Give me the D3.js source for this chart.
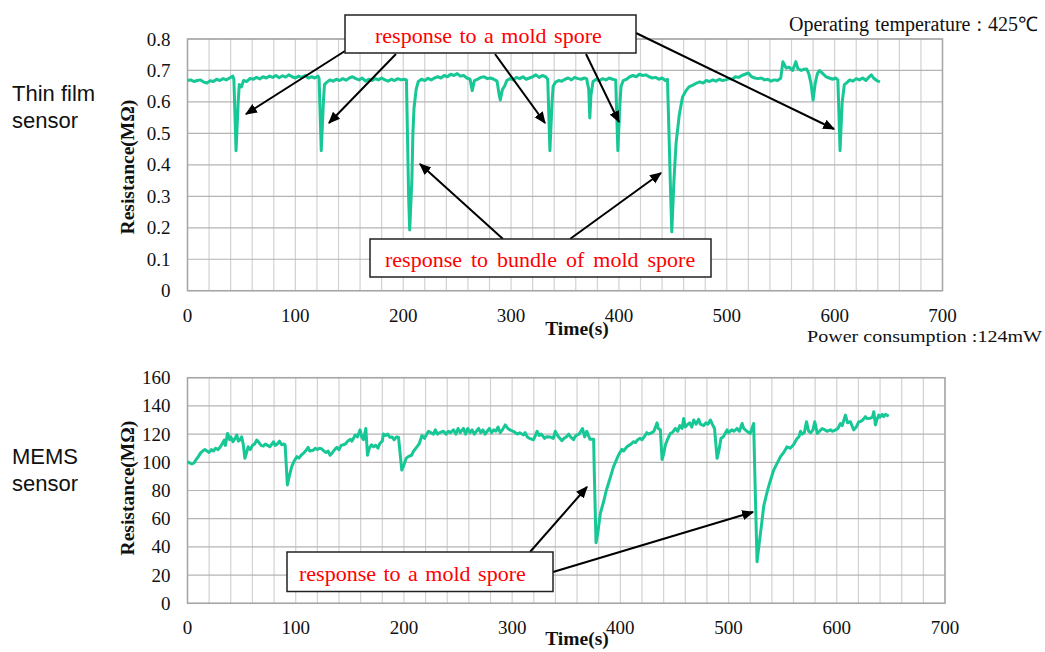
<!DOCTYPE html>
<html>
<head>
<meta charset="utf-8">
<title>mold spore response</title>
<script src="https://cdn.jsdelivr.net/npm/d3@7/dist/d3.min.js"></script>
<style>
  html, body { margin: 0; padding: 0; background: #fff; }
  svg { display: block; }
  .tick-label { font-family: "Liberation Serif", "Times New Roman", serif; font-size: 19px; fill: #111; }
  .axis-title { font-family: "Liberation Serif", "Times New Roman", serif; font-size: 19.5px; font-weight: bold; fill: #111; }
  .side-label { font-family: "Liberation Sans", Arial, sans-serif; font-size: 22px; fill: #111; }
  .note { font-family: "Liberation Serif", "Times New Roman", serif; fill: #111; }
  .callout-text { font-family: "Liberation Serif", "Times New Roman", serif; font-size: 22px; fill: #ff0000; }
  .grid-h { stroke: #b4b4b4; stroke-width: 1.2px; }
  .grid-v { stroke: #d2d2d2; stroke-width: 1.2px; }
  .frame { fill: none; stroke: #a6a6a6; stroke-width: 1.5px; }
  .trace { fill: none; stroke: #17c795; stroke-width: 3px; stroke-linejoin: round; }
  .callout-box { fill: #fff; stroke: #222; stroke-width: 1.5px; }
  .arrow { stroke: #000; stroke-width: 2px; }
</style>
</head>
<body>
<div id="chart"></div>
<script>
var width = 1045,
    height = 652;

// ---- data: thin film sensor (time s, resistance MOhm)
var thinTime = [0,3,6,9,12,15,18,21,24,27,30,33,36,39,42,43,45,47,48,50,52,55,58,61,64,67,70,73,76,79,82,85,88,91,94,97,100,103,106,109,112,115,118,121,122,124,126,127,129,132,135,138,141,144,147,150,153,156,159,162,165,168,171,174,177,180,183,186,189,192,195,198,201,203,205,206,208,209,210,211,212,214,217,220,223,226,229,232,235,238,241,244,247,250,253,256,259,262,264,266,269,272,275,278,281,284,287,289,290,292,294,296,299,302,305,308,311,314,317,320,323,326,329,332,334,336,338,339,341,344,347,350,353,356,359,362,365,368,370,372,373,374,376,379,382,385,388,391,394,397,399,401,402,404,407,410,413,416,419,422,425,428,431,434,437,440,443,445,446,448,449,451,453,456,459,462,465,469,472,475,478,481,484,487,490,493,496,499,502,505,508,511,514,517,520,523,526,529,532,535,538,541,544,547,550,552,555,558,561,564,566,569,572,574,576,578,580,582,584,586,589,592,595,598,601,603,605,607,609,611,614,617,620,623,626,629,632,634,636,639,642];
var thinRes = [0.668,0.670,0.665,0.668,0.670,0.663,0.660,0.667,0.665,0.672,0.668,0.674,0.670,0.676,0.682,0.672,0.445,0.600,0.655,0.648,0.668,0.665,0.675,0.672,0.678,0.673,0.680,0.676,0.682,0.678,0.684,0.677,0.683,0.679,0.686,0.680,0.676,0.682,0.678,0.684,0.676,0.680,0.676,0.682,0.675,0.445,0.600,0.655,0.662,0.670,0.666,0.672,0.668,0.674,0.669,0.676,0.680,0.674,0.670,0.676,0.666,0.672,0.668,0.674,0.670,0.676,0.670,0.666,0.672,0.668,0.674,0.670,0.672,0.670,0.300,0.193,0.350,0.500,0.580,0.610,0.640,0.665,0.672,0.668,0.675,0.670,0.676,0.680,0.676,0.684,0.680,0.688,0.684,0.690,0.682,0.684,0.676,0.672,0.636,0.668,0.672,0.678,0.680,0.674,0.676,0.672,0.666,0.622,0.606,0.640,0.650,0.668,0.674,0.670,0.678,0.674,0.680,0.672,0.676,0.680,0.686,0.678,0.684,0.680,0.672,0.445,0.600,0.650,0.662,0.668,0.666,0.672,0.676,0.670,0.678,0.674,0.672,0.676,0.674,0.640,0.549,0.620,0.665,0.672,0.668,0.674,0.670,0.676,0.672,0.670,0.445,0.600,0.650,0.668,0.672,0.680,0.684,0.680,0.688,0.684,0.686,0.680,0.676,0.678,0.672,0.676,0.668,0.672,0.550,0.300,0.187,0.350,0.470,0.560,0.616,0.635,0.648,0.654,0.660,0.664,0.660,0.668,0.665,0.670,0.666,0.672,0.668,0.670,0.674,0.672,0.680,0.678,0.684,0.688,0.692,0.680,0.676,0.674,0.676,0.670,0.672,0.666,0.670,0.668,0.675,0.728,0.708,0.710,0.700,0.728,0.705,0.700,0.704,0.705,0.690,0.660,0.606,0.660,0.690,0.700,0.690,0.680,0.676,0.672,0.676,0.670,0.445,0.600,0.655,0.660,0.670,0.666,0.674,0.670,0.676,0.668,0.680,0.686,0.676,0.668,0.664];

// ---- data: MEMS sensor (time s, resistance MOhm)
var memsTime = [0,2,4,6,8,10,12,14,16,18,20,22,24,26,28,30,32,34,35,37,39,40,42,44,45.5,47,48.6,50,51.5,53,55,56,58,60,62,64,66,68,70,72,74,76,78,79.4,81,83,85,87,89,90.2,92.3,94,96.3,98,101,103,105,107,109,111.5,113,116,118,120,122,124,126,128,130,131.8,134,136,138,140,142,144,146,148,150.5,152,155,157,159.5,161,162.6,164.8,166.3,168,170,172,174,176,177.8,180,181,183,185,187,189,191,193,195,198,200,202,204,207,209,212,214,216.6,219,222.7,225,227.3,229,231,233,236.5,239,241,243,245.8,248,250,252,255,257,259,261,263,265,267,269,271,273,275,277,279,281,283,285,287,289,291,293.6,296,298,301,303,305,307,310.5,312,314,316,319.8,321,323,325,327,330,332,335,338,339.8,342,344,346,348,350,352.2,354,356.8,358,359.9,362,363.5,365,367,369,371,372,375.3,376,377.5,379.3,381.5,384.5,387,389,391,393.7,396,398.3,401.4,403,406,408,410,412,414,416,418.2,420,422,424.4,426,429,431,433.9,435,437,438.5,440,441.6,444,446.2,448,450.9,453,455,457,458.5,460,461.7,464,466,467.8,470,472.4,474,477,479,481,483.2,485,487,489.4,491,493,495,498.6,500,503,505,507.7,510,512.5,514,517,520,523.2,524,526.3,528.7,530.5,532.5,535,537,539,541.7,544,546,548,551,554,557,560,563.4,565,566.5,568,570,572,574,576,578,579.6,582,584,586.5,589,591,594,596,599,601,603.4,605,608,610,612.6,614,615.7,618,620.3,622,624,626.5,628,631,633,634.2,635.7,637,638.8,640,642,643.4,645,648];
var memsRes = [100.5,99.5,98.8,99.5,102,104,106.5,108,109,108,107,109,108,110,109,110.6,113,115.8,112,120.5,116,118,114.6,117,119.4,115,116,118,113,102.8,108,111,109,112,113,115.8,114,112,111.5,113,112,111,113,114.6,112,113,115,112.4,113,112.4,83.9,90,96.9,100,104,103,105,106.3,108,110.6,108,108.5,110,109,110,109.5,108,107,108,105,107,109,110.6,109,112,112.4,113,115,116.3,115,119.4,118,123,118,116,124,105,110,112.4,111,112,110,113.5,115,120,119,120,117.7,118,116,118,117.7,94.5,98,102.8,104,105,108,111,113,118.9,117,122,121,120,123,120,121,122,120,122,121,123,120,124,121,124,120,124,121,123,120,122,124,121,123,120,122,124,121,123,122,125,121,123,126.5,124,123,122,121,120,121,119.4,121,118,117,116,118,122,119,120,117,118.2,118,117,122,119,117,115.3,117,118,120,118,116,118,119.4,120,122,124,118,122,118,116.3,116.3,90,43,50.8,63.8,72,80,85,90,96.9,101,105.2,109.2,108,111,112,113,114.6,114,116,117,116,118,121,120,121,122,128,124,123,102,106,112.3,117,120.5,121,124,122,126,124,131,125,126.5,128,125,130,127,130.5,127,126,128,127,130,127,124,102.8,108,117,118,123,121,123,122,124,122,127.5,124,122,120.5,127.5,100,29.5,45,56,69,77,82.7,88,94.5,98,101,104,107,111,110,112.4,117,118,122,120,121,128.8,122,121,123,128.8,120.5,122,124,123,122,123,122,123,124,127.5,126,133.5,128,128.8,126,123,125,128.8,129,130,132.4,131,131.3,132,135.9,126.5,130,133.5,132,134,132.4,134,132.8];

var timeTicks = [0, 100, 200, 300, 400, 500, 600, 700];
var thinTicks = [0, 0.1, 0.2, 0.3, 0.4, 0.5, 0.6, 0.7, 0.8];
var memsTicks = [0, 20, 40, 60, 80, 100, 120, 140, 160];
var timeMinor = d3.range(0, 701, 20);

var svg = d3.select("#chart").append("svg")
            .attr("width", width)
            .attr("height", height);

svg.append("defs").append("marker")
   .attr("id", "head")
   .attr("viewBox", "0 0 10 10")
   .attr("refX", 9).attr("refY", 5)
   .attr("markerWidth", 6).attr("markerHeight", 6)
   .attr("markerUnits", "strokeWidth")
   .attr("orient", "auto")
   .append("path")
   .attr("d", "M0,0.8L10,5L0,9.2Z")
   .attr("fill", "#000");

// draws one panel: grid, frame, ticks, titles, trace
var panel = function(opt) {
  var x = d3.scaleLinear().domain([0, 700]).range([opt.x0, opt.x1]);
  var y = d3.scaleLinear().domain([opt.yTicks[0], opt.yTicks[opt.yTicks.length - 1]])
            .range([opt.y0, opt.y1]);
  var g = svg.append("g");

  g.selectAll(".grid-v").data(timeMinor).enter().append("line")
   .attr("class", "grid-v")
   .attr("x1", function(d) { return x(d); }).attr("x2", function(d) { return x(d); })
   .attr("y1", opt.y1).attr("y2", opt.y0);

  g.selectAll(".grid-h").data(opt.yTicks).enter().append("line")
   .attr("class", "grid-h")
   .attr("x1", opt.x0).attr("x2", opt.x1)
   .attr("y1", function(d) { return y(d); }).attr("y2", function(d) { return y(d); });

  g.append("rect").attr("class", "frame")
   .attr("x", opt.x0).attr("y", opt.y1)
   .attr("width", opt.x1 - opt.x0).attr("height", opt.y0 - opt.y1);

  // y tick labels
  g.selectAll(".ytl").data(opt.yTicks).enter().append("text")
   .attr("class", "tick-label")
   .attr("x", opt.x0 - 17)
   .attr("y", function(d) { return y(d) + 6.5; })
   .attr("text-anchor", "end")
   .text(function(d) { return opt.fmt(d); });

  // x tick labels
  g.selectAll(".xtl").data(timeTicks).enter().append("text")
   .attr("class", "tick-label")
   .attr("x", function(d) { return x(d); })
   .attr("y", opt.y0 + 31)
   .attr("text-anchor", "middle")
   .text(function(d) { return d; });

  g.append("text").attr("class", "axis-title")
   .attr("x", 577).attr("y", opt.y0 + opt.titleGap)
   .attr("text-anchor", "middle")
   .text("Time(s)");

  g.append("text").attr("class", "axis-title")
   .attr("transform", "translate(" + 134 + "," + opt.yMid + ") rotate(-90)")
   .attr("text-anchor", "middle")
   .text("Resistance(M\u03a9)");

  var line = d3.line()
               .x(function(d, i) { return x(opt.t[i]); })
               .y(function(d) { return y(d); });

  g.append("path")
   .datum(opt.v)
   .attr("class", "trace")
   .attr("d", line);

  var side = g.append("text").attr("class", "side-label");
  opt.side.forEach(function(s, i) {
    side.append("tspan").attr("x", 12).attr("y", opt.sideY + i * 27).text(s);
  });
};

panel({ x0: 187.5, x1: 942.5, y0: 290.7, y1: 39, yMid: 167, titleGap: 44,
        yTicks: thinTicks, t: thinTime, v: thinRes,
        fmt: function(d) { return d === 0 ? "0" : d3.format(".1f")(d); },
        side: ["Thin film", "sensor"], sideY: 101 });

panel({ x0: 187.5, x1: 945, y0: 603.3, y1: 377.7, yMid: 488, titleGap: 42,
        yTicks: memsTicks, t: memsTime, v: memsRes,
        fmt: function(d) { return d; },
        side: ["MEMS", "sensor"], sideY: 464 });

// operating notes
svg.append("text").attr("class", "note")
   .attr("x", 789).attr("y", 31)
   .style("font-size", "20px")
   .style("word-spacing", "1px")
   .text("Operating temperature : 425\u2103");

svg.append("text").attr("class", "note")
   .attr("x", 807).attr("y", 341.5)
   .style("font-size", "17.5px")
   .attr("textLength", 235).attr("lengthAdjust", "spacingAndGlyphs")
   .text("Power consumption  :124mW");

// callouts: box [x, y, w, h], text baseline, arrows [x1,y1,x2,y2]
var callouts = [
  { box: [345, 15, 291, 38], tx: 375, ty: 43, ws: 2, label: "response to a mold spore",
    arrows: [[345, 51, 246, 114], [396, 54, 329, 123], [495, 54, 545, 123],
             [586, 54, 619, 122], [636, 33, 834, 129]] },
  { box: [370, 239, 341, 38], tx: 385, ty: 267, ws: 3.5, label: "response to bundle of mold spore",
    arrows: [[503, 239, 420, 164], [570, 239, 661, 173]] },
  { box: [287, 552, 266, 39.5], tx: 299, ty: 580.5, ws: 2, label: "response to a mold spore",
    arrows: [[530, 552, 587, 487], [553, 572, 753, 512]] }
];

callouts.forEach(function(c) {
  var g = svg.append("g");
  g.selectAll("line").data(c.arrows).enter().append("line")
   .attr("class", "arrow")
   .attr("x1", function(d) { return d[0]; }).attr("y1", function(d) { return d[1]; })
   .attr("x2", function(d) { return d[2]; }).attr("y2", function(d) { return d[3]; })
   .attr("marker-end", "url(#head)");
  g.append("rect").attr("class", "callout-box")
   .attr("x", c.box[0]).attr("y", c.box[1])
   .attr("width", c.box[2]).attr("height", c.box[3]);
  g.append("text").attr("class", "callout-text")
   .attr("x", c.tx).attr("y", c.ty)
   .style("word-spacing", c.ws + "px")
   .text(c.label);
});
</script>
</body>
</html>
